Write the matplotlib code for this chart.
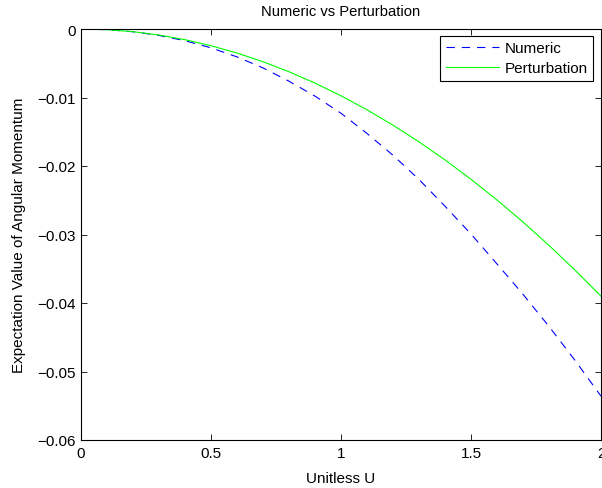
import matplotlib
matplotlib.use("Agg")
import matplotlib.pyplot as plt

plt.rcParams['font.family'] = ['Liberation Sans', 'DejaVu Sans']
plt.rcParams['lines.scale_dashes'] = False

# Data
u = [0.0, 0.1, 0.2, 0.3, 0.4, 0.5, 0.6, 0.7, 0.8, 0.9, 1.0,
     1.1, 1.2, 1.3, 1.4, 1.5, 1.6, 1.7, 1.8, 1.9, 2.0]
numeric = [0.0, -0.0001, -0.0004, -0.00094, -0.00171, -0.00275, -0.00407,
           -0.00568, -0.00762, -0.0098, -0.0123, -0.01525, -0.01843,
           -0.02197, -0.02587, -0.02993, -0.0343, -0.03873, -0.04342,
           -0.04837, -0.0536]
perturbation = [0.0, -0.0001, -0.00039, -0.00088, -0.00156, -0.00244,
                -0.00351, -0.00478, -0.00624, -0.0079, -0.00975, -0.0118,
                -0.01404, -0.01648, -0.01911, -0.02194, -0.02496, -0.02818,
                -0.03159, -0.0352, -0.039]
xticks = [0, 0.5, 1, 1.5, 2]
xticklabels = ["0", "0.5", "1", "1.5", "2"]
yticks = [-0.06, -0.05, -0.04, -0.03, -0.02, -0.01, 0]
yticklabels = ["\u22120.06", "\u22120.05", "\u22120.04", "\u22120.03",
               "\u22120.02", "\u22120.01", "0"]

fig = plt.figure(figsize=(6.02, 4.89), dpi=100)
ax = fig.add_axes([81/602, 1-441/489, 520/602, 411/489])

ax.plot(u, numeric, color='blue', linestyle='--', dashes=(6, 5), lw=0.8,
        label='Numeric')
ax.plot(u, perturbation, color=(0, 1, 0), linestyle='-', lw=0.8,
        label='Perturbation')

ax.set_xlim(0, 2)
ax.set_ylim(-0.06, 0)
ax.set_xticks(xticks)
ax.set_xticklabels(xticklabels)
ax.set_yticks(yticks)
ax.set_yticklabels(yticklabels)
ax.tick_params(direction='in', top=True, right=True, length=4, width=0.6,
               labelsize=11, pad=4, colors='black')
for s in ax.spines.values():
    s.set_linewidth(0.8)

ax.set_title('Numeric vs Perturbation', fontsize=10.6, pad=10)
ax.set_xlabel('Unitless U', fontsize=11, labelpad=8)
ax.set_ylabel('Expectation Value of Angular Momentum', fontsize=11, labelpad=8)

leg = ax.legend(loc='upper right', bbox_to_anchor=(1-8/520, 1-7/411),
                borderaxespad=0, fancybox=False, edgecolor='black',
                framealpha=1, fontsize=11, handlelength=3.5,
                labelspacing=0.4, borderpad=0.35, handletextpad=0.35)
leg.get_frame().set_linewidth(0.8)

fig.savefig('out.png', dpi=100)
